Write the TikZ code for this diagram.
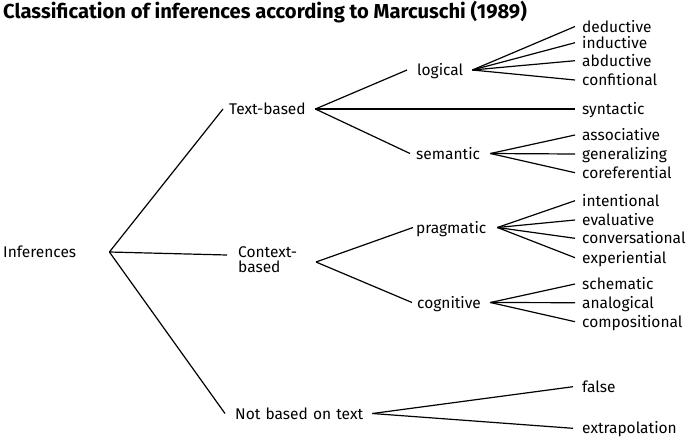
\documentclass[tikz,border=0pt]{standalone}
\usepackage{fontspec}
\setmainfont{Fira Sans}
\begin{document}
\begin{tikzpicture}[x=1pt,y=-1pt,
  lab/.style={anchor=base west, inner sep=0pt, text height=11pt, text depth=0pt,
    yshift=-1.5pt, font=\fontsize{15.5}{18}\selectfont},
  par/.style={lab, text width=#1, align=left},
  edge/.style={line width=1.2pt}]
\useasboundingbox (0,0) rectangle (688,440);
\node[anchor=base west, inner sep=0pt, font=\bfseries\fontsize{20.2}{24}\selectfont] (title) at (3,18)
  {Classification of inferences according to Marcuschi (1989)};
% level 0
\node[par=106pt] (root) at (3,256) {Inferences};
% level 1
\node[par=86pt] (tb) at (229,113) {Text-based};
\node[anchor=west, inner sep=0pt, text width=78pt, align=left, font=\fontsize{15.5}{15.5}\selectfont] (ctx) at (238,259.5) {Context-\\based};
\node[par=137pt] (nbt) at (235,417.5) {Not based on text};
% level 2
\node[par=55pt] (log) at (417,74) {logical};
\node[par=74pt] (sem) at (416,157.5) {semantic};
\node[par=81pt] (prag) at (416,231.5) {pragmatic};
\node[par=73pt] (cog) at (417,306.5) {cognitive};
% leaves
\node[lab] (ded) at (582,30.5) {deductive};
\node[lab] (ind) at (582,46.7) {inductive};
\node[lab] (abd) at (582,64.7) {abductive};
\node[lab] (conf) at (582,84) {confitional};
\node[lab] (syn) at (582,113) {syntactic};
\node[lab] (asso) at (582,139) {associative};
\node[lab] (gen) at (582,158) {generalizing};
\node[lab] (coref) at (582,176.7) {coreferential};
\node[lab] (inte) at (582,204.7) {intentional};
\node[lab] (eval) at (582,224) {evaluative};
\node[lab] (conv) at (582,242.3) {conversational};
\node[lab] (expe) at (582,261.7) {experiential};
\node[lab] (sche) at (582,288) {schematic};
\node[lab] (anal) at (582,306.7) {analogical};
\node[lab] (comp) at (582,325.7) {compositional};
\node[lab] (fals) at (582,390.7) {false};
\node[lab] (extr) at (582,432.3) {extrapolation};
% connectors
\draw[edge] (root.east) -- ([xshift=-6pt]tb.west);
\draw[edge] (root.east) -- ([xshift=-11pt,yshift=4.5pt]ctx.west);
\draw[edge] (root.east) -- ([xshift=-10pt]nbt.west);
\draw[edge] (tb.east) -- ([xshift=-10pt]log.west);
\draw[edge] (tb.east) -- ([xshift=-7pt]syn.west);
\draw[edge] (tb.east) -- ([xshift=-6pt]sem.west);
\draw[edge] ([xshift=78pt,yshift=-2.5pt]ctx.west) -- ([xshift=-3pt]prag.west);
\draw[edge] ([xshift=78pt,yshift=-2.5pt]ctx.west) -- ([xshift=-5pt]cog.west);
\foreach \c in {ded,ind,abd,conf} \draw[edge] (log.east) -- ([xshift=-7pt]\c.west);
\foreach \c in {asso,gen,coref} \draw[edge] (sem.east) -- ([xshift=-7pt]\c.west);
\foreach \c in {inte,eval,conv,expe} \draw[edge] (prag.east) -- ([xshift=-7pt]\c.west);
\foreach \c in {sche,anal,comp} \draw[edge] (cog.east) -- ([xshift=-7pt]\c.west);
\foreach \c in {fals,extr} \draw[edge] (nbt.east) -- ([xshift=-9pt]\c.west);
\end{tikzpicture}
\end{document}
